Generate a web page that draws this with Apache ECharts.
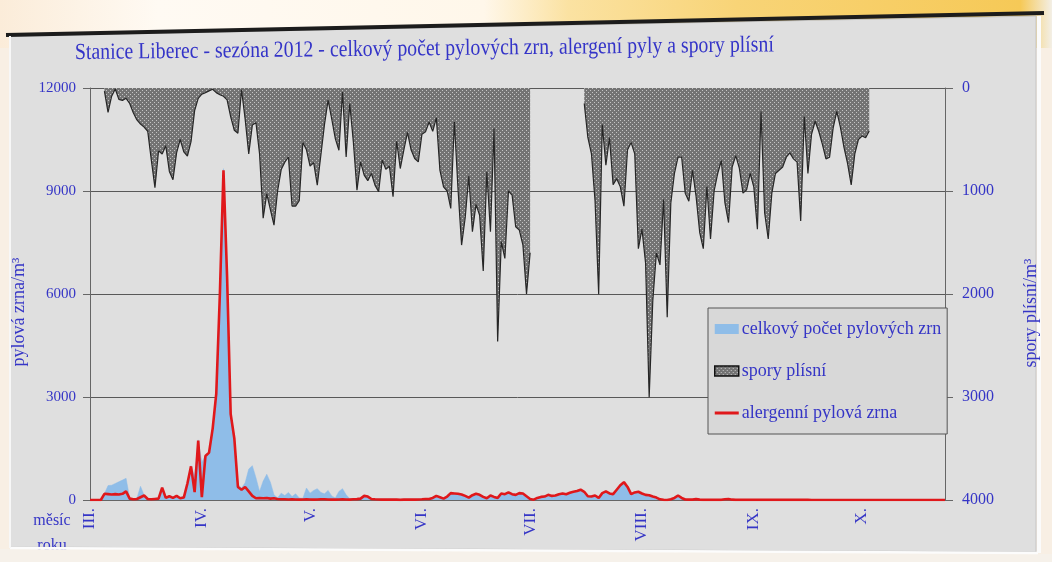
<!DOCTYPE html>
<html>
<head>
<meta charset="utf-8">
<script src="https://cdn.jsdelivr.net/npm/echarts@6/dist/echarts.min.js"></script>
<style>
  html, body { margin: 0; padding: 0; background: #f8efe4; }
  #chart { width: 1052px; height: 562px; }
</style>
</head>
<body>
<div id="chart"></div>
<script>
// Month tick labels and the day index (from 1 March) where each month starts
const monthLabels = ['III.', 'IV.', 'V.', 'VI.', 'VII.', 'VIII.', 'IX.', 'X.'];
const monthStartDays = [0, 31, 61, 92, 122, 153, 184, 214];

// Daily total pollen count (grains/m3), 1 March – 24 October 2012
const totalPollen = [
  0,0,0,0,180,420,430,480,530,580,
  630,60,40,50,400,140,40,40,50,60,
  370,80,120,80,130,70,120,500,1000,700,
  1750,1100,1300,1400,2100,3100,6000,9650,6500,2500,
  1850,450,350,500,900,1000,650,250,550,750,
  520,150,60,200,130,220,100,180,60,50,
  350,200,280,330,220,180,280,120,60,250,
  330,150,40,30,30,50,130,110,40,30,
  25,20,20,25,20,20,15,20,20,25,
  20,25,30,40,40,70,130,90,50,110,
  210,200,190,170,130,80,150,190,160,100,
  60,140,100,70,200,180,230,180,160,210,
  200,120,40,15,70,100,110,160,130,140,
  180,200,180,220,250,270,310,250,120,110,
  140,70,210,260,200,180,310,440,530,390,
  180,230,250,200,160,150,110,80,30,10,
  10,30,70,140,70,20,15,15,30,15,
  10,10,10,10,10,10,25,35,15,10,
  5,5,5,5,5,5,5,5,5,5,
  5,5,5,5,5,5,5,5,5,5,
  0,0,0,0,0,0,0,0,0,0,
  0,0,0,0,0,0,0,0,0,0,
  0,0,0,0,0,0,0,0,0,0,
  0,0,0,0,0,0,0,0
];

// Daily allergenic pollen (grains/m3)
const allergenicPollen = [
  0,0,0,0,180,170,160,170,160,180,
  250,40,20,30,80,130,30,20,30,40,
  360,60,110,60,120,50,70,480,980,230,
  1730,80,1280,1380,2080,3100,6000,9600,6500,2500,
  1800,380,300,380,250,120,50,60,50,60,
  40,50,30,20,20,15,20,15,10,15,
  20,15,10,15,20,20,15,10,10,15,
  20,15,10,20,25,40,120,100,30,20,
  15,10,10,15,10,10,5,10,10,15,
  10,15,20,30,30,60,120,80,40,100,
  200,190,180,160,120,70,140,180,150,90,
  50,130,90,60,190,170,220,170,150,200,
  190,110,30,10,60,90,100,150,120,130,
  170,190,170,210,240,260,300,240,110,100,
  130,60,200,250,190,170,300,430,520,380,
  170,220,240,190,150,140,100,70,20,5,
  0,20,60,130,60,15,10,10,25,10,
  5,5,5,5,5,5,20,30,10,5,
  5,5,5,5,5,5,5,5,5,5,
  5,5,5,5,5,5,5,5,5,5,
  0,0,0,0,0,0,0,0,0,0,
  0,0,0,0,0,0,0,0,0,0,
  0,0,0,0,0,0,0,0,0,0,
  0,0,0,0,0,0,0,0
];

// Daily mould spores (spores/m3); null = no measurement
const moldSpores = [
  null,null,null,null,
  30,236,80,10,110,120,100,150,240,310,
  350,380,420,700,967,610,640,560,810,890,
  630,500,620,660,520,220,100,60,45,28,
  12,45,65,80,115,280,410,440,17,300,
  640,360,337,640,1264,1028,1180,1331,1000,792,
  720,670,1146,1146,1095,530,600,758,725,944,
  650,354,118,300,491,604,39,669,152,523,
  992,720,846,900,830,943,1008,700,790,760,
  1056,517,782,600,430,600,685,717,450,426,
  330,420,290,800,960,1000,1169,330,976,1525,
  1260,856,1395,1130,1235,1777,814,1395,394,2461,
  1492,1654,1000,1040,1347,1380,1525,2000,1600,
  null,null,null,null,null,null,null,null,null,null,null,null,null,null,
  150,480,640,1100,2003,355,750,482,940,880,
  960,1148,600,529,640,1560,1370,1700,3002,2067,
  1600,1718,1084,2225,1116,830,672,672,1021,1100,
  799,1052,1401,1560,957,1465,1000,830,704,1116,
  1306,767,656,780,1021,989,830,960,1370,228,
  1211,1465,1021,830,799,767,672,630,688,720,
  1290,276,830,450,323,420,545,688,672,387,
  228,380,577,735,941,640,500,466,482,418,
  null,null,null,null,null,null,null,null,null,null,
  null,null,null,null,null,null,null,null,null,null,null
];

// Category labels: one per day starting 1 March 2012
const days = [];
for (let i = 0; i < totalPollen.length; i++) {
  const d = new Date(2012, 2, 1 + i);
  days.push(d.getDate() + '.' + (d.getMonth() + 1) + '.');
}

// Stippled fill used for the spore area
function sporePattern() {
  const cv = document.createElement('canvas');
  cv.width = 4; cv.height = 4;
  const c = cv.getContext('2d');
  c.fillStyle = '#737373';
  c.fillRect(0, 0, 4, 4);
  c.fillStyle = '#c4c4c4';
  c.fillRect(0, 0, 1, 1);
  c.fillRect(2, 2, 1, 1);
  return cv;
}
const sporeFill = { image: sporePattern(), repeat: 'repeat' };

const TEXT_BLUE = '#3535c6';
const SERIF = "'Liberation Serif', 'Times New Roman', serif";
const AXIS_GREY = '#666666';
const plainNumber = (v) => String(v);

const chart = echarts.init(document.getElementById('chart'), null, { renderer: 'canvas' });

const option = {
  animation: false,
  graphic: [
    { type: 'rect', silent: true, z: -20, shape: { x: 0, y: 0, width: 1052, height: 562 },
      style: { fill: '#f8efe4' } },
    { type: 'rect', silent: true, z: -19, shape: { x: 0, y: 0, width: 1052, height: 48 },
      style: { fill: new echarts.graphic.LinearGradient(0, 0, 1, 0, [
        { offset: 0, color: '#fbecd9' },
        { offset: 0.15, color: '#fffaf3' },
        { offset: 0.46, color: '#fff7ea' },
        { offset: 0.54, color: '#fbe2a2' },
        { offset: 0.7, color: '#f8d477' },
        { offset: 0.97, color: '#f6c957' },
        { offset: 1, color: '#f3efe6' }
      ]) } },
    { type: 'polygon', silent: true, z: -18,
      shape: { points: [[10, 36], [1036, 16], [1036, 552], [10, 547]] },
      style: { fill: '#dfdfdf', stroke: '#c4c4c4', lineWidth: 1 } },
    { type: 'polyline', silent: true, z: -17,
      shape: { points: [[6, 35], [1044, 13]] },
      style: { stroke: '#1c1c1c', lineWidth: 4 } },
    { type: 'polyline', silent: true, z: -17,
      shape: { points: [[1039, 16], [1039, 553]] },
      style: { stroke: '#fbfbfb', lineWidth: 4 } },
    // title
    { type: 'text', silent: true, z: 10, x: 75, y: 53, scaleX: 0.86, rotation: 0.011,
      style: { text: 'Stanice Liberec - sezóna 2012 - celkový počet pylových zrn, alergení pyly a spory plísní',
               fill: '#3434c8', font: "23px 'Liberation Serif'", align: 'left', verticalAlign: 'middle' } },
    // axis names
    { type: 'text', silent: true, z: 10, x: 19, y: 312, rotation: Math.PI / 2,
      style: { text: 'pylová zrna/m³', fill: TEXT_BLUE, font: "18px 'Liberation Serif'",
               align: 'center', verticalAlign: 'middle' } },
    { type: 'text', silent: true, z: 10, x: 1031, y: 313, rotation: Math.PI / 2,
      style: { text: 'spory plísní/m³', fill: TEXT_BLUE, font: "18px 'Liberation Serif'",
               align: 'center', verticalAlign: 'middle' } },
    // x-axis caption
    { type: 'text', silent: true, z: 10, x: 52, y: 521,
      style: { text: 'měsíc', fill: TEXT_BLUE, font: "16px 'Liberation Serif'", align: 'center', verticalAlign: 'middle' } },
    { type: 'text', silent: true, z: 10, x: 52, y: 546,
      style: { text: 'roku', fill: TEXT_BLUE, font: "16px 'Liberation Serif'", align: 'center', verticalAlign: 'middle' } },
    // lower panel edge
    { type: 'polygon', silent: true, z: 11,
      shape: { points: [[0, 549], [1052, 554], [1052, 562], [0, 562]] },
      style: { fill: '#f6f1ea' } },
    { type: 'polyline', silent: true, z: 12,
      shape: { points: [[10, 548], [1038, 553]] },
      style: { stroke: '#fcfcfc', lineWidth: 2.5 } },
    { type: 'polyline', silent: true, z: 12,
      shape: { points: [[10, 36], [10, 548]] },
      style: { stroke: '#f7f7f7', lineWidth: 2 } }
  ],
  grid: { left: 90, right: 107, top: 88, bottom: 62, containLabel: false },
  legend: {
    orient: 'vertical',
    left: 708,
    top: 308,
    padding: [12, 6, 12, 6],
    itemGap: 24,
    itemWidth: 24,
    itemHeight: 10,
    backgroundColor: '#d8d8d8',
    borderColor: '#555555',
    borderWidth: 1,
    selectedMode: false,
    textStyle: { color: TEXT_BLUE, fontFamily: SERIF, fontSize: 18, padding: [0, 0, 0, -2] },
    data: [
      { name: 'celkový počet pylových zrn', icon: 'rect', itemStyle: { color: '#8fbde8', borderWidth: 0 } },
      { name: 'spory plísní', icon: 'rect', itemStyle: { color: sporeFill, borderColor: '#111111', borderWidth: 1.5 } },
      { name: 'alergenní pylová zrna', icon: 'path://M0,0h24v3h-24z', itemStyle: { color: '#e0181b', borderWidth: 0 } }
    ]
  },
  xAxis: {
    type: 'category',
    data: days,
    boundaryGap: false,
    axisLine: { onZero: false, lineStyle: { color: AXIS_GREY, width: 1 } },
    axisTick: { show: false },
    splitLine: { show: false },
    axisLabel: {
      interval: (index) => monthStartDays.includes(index),
      formatter: (value, index) => monthLabels[monthStartDays.indexOf(index)],
      rotate: 90,
      margin: 8,
      color: TEXT_BLUE,
      fontFamily: SERIF,
      fontSize: 17
    }
  },
  yAxis: [
    {
      type: 'value',
      position: 'left',
      min: 0, max: 12000, interval: 3000,
      axisLine: { show: true, lineStyle: { color: AXIS_GREY } },
      axisTick: { show: true, length: 7, lineStyle: { color: AXIS_GREY } },
      splitLine: { show: true, lineStyle: { color: '#585858', width: 1 } },
      axisLabel: { margin: 14, color: TEXT_BLUE, fontFamily: SERIF, fontSize: 15, formatter: plainNumber }
    },
    {
      type: 'value',
      position: 'right',
      inverse: true,
      min: 0, max: 4000, interval: 1000,
      axisLine: { show: true, lineStyle: { color: AXIS_GREY } },
      axisTick: { show: true, length: 8, lineStyle: { color: AXIS_GREY } },
      splitLine: { show: false },
      axisLabel: { margin: 17, color: TEXT_BLUE, fontFamily: SERIF, fontSize: 16, formatter: plainNumber }
    }
  ],
  series: [
    {
      name: 'spory plísní',
      type: 'line',
      yAxisIndex: 1,
      data: moldSpores,
      symbol: 'none',
      connectNulls: false,
      lineStyle: { color: '#262626', width: 1.2 },
      itemStyle: { color: '#262626' },
      areaStyle: { color: sporeFill, opacity: 1 },
      z: 2
    },
    {
      name: 'celkový počet pylových zrn',
      type: 'line',
      yAxisIndex: 0,
      data: totalPollen,
      symbol: 'none',
      lineStyle: { color: '#8fbde8', width: 0.5 },
      itemStyle: { color: '#8fbde8' },
      areaStyle: { color: '#8fbde8', opacity: 1 },
      z: 3
    },
    {
      name: 'alergenní pylová zrna',
      type: 'line',
      yAxisIndex: 0,
      data: allergenicPollen,
      symbol: 'none',
      lineStyle: { color: '#e0181b', width: 2.6 },
      itemStyle: { color: '#e0181b' },
      z: 4
    }
  ]
};

chart.setOption(option);
</script>
</body>
</html>
